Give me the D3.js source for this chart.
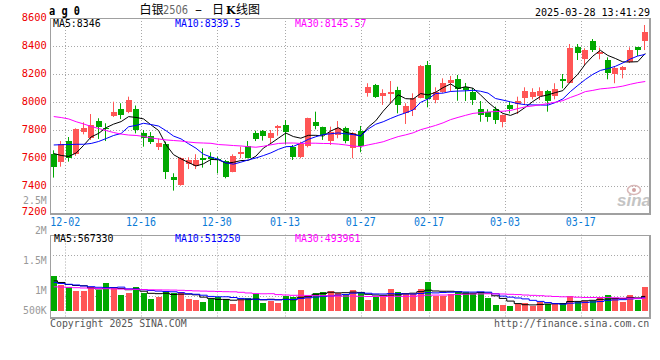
<!DOCTYPE html>
<html><head><meta charset="utf-8">
<script src="https://cdn.jsdelivr.net/npm/d3@7"></script>
<style>html,body{margin:0;padding:0;background:#fff;}svg{display:block;}</style>
</head><body><svg id="c" width="660" height="360"></svg>
<script>
const dates = ["11-28","11-29","12-02","12-03","12-04","12-05","12-06","12-09","12-10","12-11","12-12","12-13","12-16","12-17","12-18","12-19","12-20","12-23","12-24","12-25","12-26","12-27","12-30","12-31","01-02","01-03","01-06","01-07","01-08","01-09","01-10","01-13","01-14","01-15","01-16","01-17","01-20","01-21","01-22","01-23","01-24","01-27","02-05","02-06","02-07","02-10","02-11","02-12","02-13","02-14","02-17","02-18","02-19","02-20","02-21","02-24","02-25","02-26","02-27","02-28","03-03","03-04","03-05","03-06","03-07","03-10","03-11","03-12","03-13","03-14","03-17","03-18","03-19","03-20","03-21","03-24","03-25","03-26","03-27","03-28"];
const opens  = [7630,7567,7721,7629,7788,7741,7866,7812,7902,7948,7931,7948,7781,7760,7681,7700,7467,7402,7555,7540,7598,7609,7595,7579,7502,7629,7688,7776,7793,7745,7817,7836,7681,7602,7681,7859,7819,7724,7769,7812,7669,7793,8066,8121,8038,8055,8086,7919,7938,8026,8264,8019,8074,8138,8162,8105,8074,7948,7931,7948,7859,7979,7991,8034,8038,8045,8081,8038,8164,8141,8395,8307,8438,8348,8300,8205,8224,8288,8391,8438];
const highs  = [7655,7721,7750,7812,7855,7914,7884,7848,8002,7991,8038,7975,7800,7785,7740,7717,7491,7605,7605,7627,7669,7641,7610,7586,7626,7681,7721,7795,7800,7800,7836,7871,7693,7716,7888,7931,7824,7824,7864,7824,7784,7829,8134,8129,8091,8150,8109,7991,8062,8264,8293,8105,8169,8186,8193,8136,8100,8007,7948,7967,7910,8002,8038,8105,8098,8105,8086,8134,8200,8414,8414,8384,8450,8388,8319,8257,8257,8391,8391,8550];
const lows   = [7460,7538,7574,7615,7769,7729,7736,7721,7893,7878,7920,7776,7681,7700,7657,7450,7367,7402,7521,7521,7531,7550,7490,7455,7498,7598,7598,7721,7724,7698,7759,7698,7586,7598,7676,7805,7729,7693,7741,7705,7598,7641,8038,8029,7979,7991,7919,7843,7900,8026,7962,7991,8066,8074,8009,8007,7979,7859,7859,7843,7819,7919,7914,7979,8019,8014,7931,8019,8098,8136,8300,8264,8357,8305,8162,8134,8169,8279,8329,8371];
const closes = [7535,7698,7598,7805,7817,7836,7824,7802,7931,7907,8014,7795,7748,7717,7709,7502,7443,7598,7586,7586,7581,7598,7585,7467,7614,7645,7605,7734,7757,7781,7831,7788,7609,7698,7884,7831,7764,7788,7817,7716,7776,7688,8109,8038,8062,8069,7979,7971,8026,8257,8019,8074,8138,8157,8091,8086,8019,7902,7895,7867,7907,7950,8009,8081,8074,8081,8009,8091,8152,8388,8352,8371,8376,8359,8205,8245,8248,8371,8371,8502];
const volumes = [1390000,1020000,953000,794000,794000,953000,822000,1112000,889000,623000,715000,953000,691000,464000,556000,794000,715000,754000,464000,425000,333000,464000,556000,464000,266000,425000,492000,651000,318000,385000,318000,584000,556000,822000,584000,715000,754000,794000,691000,623000,822000,691000,425000,556000,556000,861000,754000,651000,651000,861000,1150000,596000,596000,651000,760000,754000,712000,754000,516000,226000,226000,187000,254000,294000,187000,333000,254000,318000,318000,596000,357000,385000,400000,520000,640000,492000,357000,620000,425000,940000];

const ma5Head  = [7632,7618,7611,7636];
const ma10Head = [7693,7695,7696,7698,7698,7704,7718,7739,7761];
const ma30Head = [7896,7889,7879,7859,7843,7825,7811,7796,7782,7771,7764,7761,7754,7743,7736,7729,7725,7721,7714,7709,7707,7705,7696,7693,7689,7686,7681,7677,7684];
const vma5Head  = [1187000,1120000,1040000,1000000];
const vma10Head = [1120000,1080000,1048000,1020000,981000,953000,929000,913000,913000];
const vma30Head = [949000,937000,925000,913000,901000,893000,885000,873000,865000,858000,850000,846000,838000,830000,826000,822000,818000,810000,798000,786000,778000,770000,762000,754000,750000,730000,703000,679000,671000];

const priceTicks = [8600,8400,8200,8000,7800,7600,7400,7200];
const dateTicks = ["12-02","12-16","12-30","01-13","01-27","02-17","03-03","03-17"];
const volTicks = [2500000,2000000,1500000,1000000,500000];
const volTickLabels = ["2.5M","2M","1.5M","1M","500K"];
const priceLegend = ["MA5:8346","MA10:8339.5","MA30:8145.57"];
const volLegend = ["MA5:567330","MA10:513250","MA30:493961"];
const maColors = ["#000000","#0000ff","#ff00ff"];

const UP = "#ff5555", DOWN = "#00a800";
const MONO = "'DejaVu Sans Mono', monospace";

function ma(vals, n, head){
  return vals.map((v,i)=> i < n-1 ? head[i] : d3.mean(vals.slice(i-n+1,i+1)));
}

const svg = d3.select("#c");
const L=50, R=649, PT=18, PB=214, VT=234.5, VB=317, VBASE=310.7;
const idx = d3.range(dates.length);
const x = d3.scaleBand().domain(idx).range([L,R]).paddingInner(0.2).paddingOuter(0.1);
const xc = i => x(i) + x.bandwidth()/2;
const xg = d3.scalePoint().domain(idx).range([L,R]);
const y = d3.scaleLinear().domain([7200,8600]).range([PB,PT]);
const yv = d3.scaleLinear().domain([0,3000000]).range([VBASE,235.1]);
const yvl = d3.scaleLinear().domain([1000000,2000000]).range([290.7,230.7]);
const px = v => Math.round(v)+0.5;

svg.append("rect").attr("width",660).attr("height",360).attr("fill","#fff");

const defs = svg.append("defs");
defs.append("clipPath").attr("id","cp").append("rect").attr("x",L).attr("y",PT).attr("width",R-L).attr("height",PB-PT);
defs.append("clipPath").attr("id","cv").append("rect").attr("x",L).attr("y",VT).attr("width",R-L).attr("height",VB-VT);

const grid = svg.append("g").attr("stroke","#a8a8a8").attr("stroke-dasharray","1,2").attr("stroke-width",1);
grid.selectAll(".hp").data(priceTicks.slice(1,-1)).join("line")
  .attr("x1",L).attr("x2",R).attr("y1",d=>px(y(d))).attr("y2",d=>px(y(d)));
grid.selectAll(".hv").data(d3.range(1,4)).join("line")
  .attr("x1",L).attr("x2",R).attr("y1",k=>px(VT+k*(VB-VT)/4)).attr("y2",k=>px(VT+k*(VB-VT)/4));
const dIdx = dateTicks.map(d=>dates.indexOf(d));
grid.selectAll(".vp").data(dIdx).join("line")
  .attr("x1",d=>px(xg(d))).attr("x2",d=>px(xg(d))).attr("y1",PT).attr("y2",PB);
grid.selectAll(".vv").data(dIdx).join("line")
  .attr("x1",d=>px(xg(d))).attr("x2",d=>px(xg(d))).attr("y1",VT).attr("y2",VB+2);

// watermark
const wm = svg.append("g");
wm.append("text").attr("x",617).attr("y",206).attr("font-family","'Liberation Sans',Arial,sans-serif")
  .attr("font-size",17).attr("font-weight","bold").attr("font-style","italic").attr("fill","#c4c4c4")
  .attr("textLength",34).attr("lengthAdjust","spacingAndGlyphs").text("sina");
wm.append("ellipse").attr("cx",634).attr("cy",190).attr("rx",6.5).attr("ry",4.5).attr("fill","none").attr("stroke","#d8b8b8").attr("stroke-width",1.6);
wm.append("circle").attr("cx",634).attr("cy",190).attr("r",2).attr("fill","#d0a0a0");

// candles
const cg = svg.append("g").attr("clip-path","url(#cp)");
const col = i => closes[i] >= opens[i] ? UP : DOWN;
cg.selectAll(".wick").data(idx).join("line")
  .attr("x1",i=>Math.round(x(i))+2.5).attr("x2",i=>Math.round(x(i))+2.5)
  .attr("y1",i=>y(highs[i])).attr("y2",i=>y(lows[i]))
  .attr("stroke",col).attr("stroke-width",1);
cg.selectAll(".body").data(idx).join("rect")
  .attr("x",i=>Math.round(x(i))).attr("width",6)
  .attr("y",i=>Math.round(y(Math.max(opens[i],closes[i]))))
  .attr("height",i=>Math.max(1,Math.round(Math.abs(y(opens[i])-y(closes[i])))))
  .attr("fill",col);

const pm = [ma(closes,5,ma5Head), ma(closes,10,ma10Head), ma(closes,30,ma30Head)];
const lineP = d3.line().x((d,i)=>xc(i)).y(d=>y(d));
cg.selectAll(".ma").data(pm).join("path")
  .attr("d",d=>lineP(d)).attr("fill","none").attr("stroke",(d,k)=>maColors[k]).attr("stroke-width",1);

// volume
const vg = svg.append("g").attr("clip-path","url(#cv)");
vg.selectAll(".vb").data(idx).join("rect")
  .attr("x",i=>Math.round(x(i))).attr("width",6)
  .attr("y",i=>Math.round(yv(volumes[i]))).attr("height",i=>Math.round(VBASE)-Math.round(yv(volumes[i])))
  .attr("fill",col);
const vm = [ma(volumes,5,vma5Head), ma(volumes,10,vma10Head), ma(volumes,30,vma30Head)];
const lineV = d3.line().x((d,i)=>xc(i)).y(d=>yv(d)).curve(d3.curveStep);
vg.selectAll(".vma").data(vm).join("path")
  .attr("d",d=>lineV(d)).attr("fill","none").attr("stroke",(d,k)=>maColors[k]).attr("stroke-width",1);

function frame(t,b){
  const f = svg.append("g").attr("stroke","#a0a0a0").attr("fill","none");
  f.append("line").attr("x1",L+0.5).attr("x2",L+0.5).attr("y1",t).attr("y2",b+1);
  f.append("line").attr("x1",L).attr("x2",R+1).attr("y1",t+0.5).attr("y2",t+0.5);
  f.append("line").attr("x1",R+1).attr("x2",R+1).attr("y1",t).attr("y2",b+2).attr("stroke-width",2);
  f.append("line").attr("x1",L).attr("x2",R+2).attr("y1",b+1).attr("y2",b+1).attr("stroke-width",2);
}
frame(PT,PB-1);
frame(Math.round(VT),VB);

svg.append("g").selectAll("text").data(priceTicks).join("text")
  .attr("x",46.7).attr("y",d=>Math.min(215,Math.max(19.3,y(d)+3.4)))
  .attr("text-anchor","end").attr("font-family",MONO).attr("font-size",10.5)
  .attr("textLength",25).attr("lengthAdjust","spacingAndGlyphs")
  .attr("fill","#ee0000").text(d=>d);

svg.append("g").selectAll("text").data(volTicks).join("text")
  .attr("x",46.7).attr("y",d=>Math.min(314.3,yvl(d)+3.3))
  .attr("text-anchor","end").attr("font-family",MONO).attr("font-size",10)
  .attr("textLength",(d,i)=>volTickLabels[i].length*5.9).attr("lengthAdjust","spacingAndGlyphs")
  .attr("fill","#999").text((d,i)=>volTickLabels[i]);

svg.append("g").selectAll("text").data(dIdx).join("text")
  .attr("x",d=>xg(d)).attr("y",226).attr("text-anchor","middle")
  .attr("font-family",MONO).attr("font-size",11.5)
  .attr("textLength",30).attr("lengthAdjust","spacingAndGlyphs")
  .attr("fill","#0a7ad6").text(d=>dates[d]);

const legX = [53,175,295];
svg.append("g").selectAll("text").data(priceLegend).join("text")
  .attr("x",(d,i)=>legX[i]).attr("y",27).attr("font-family",MONO).attr("font-size",10)
  .attr("textLength",d=>d.length*5.95).attr("lengthAdjust","spacingAndGlyphs")
  .attr("fill",(d,i)=>maColors[i]).text(d=>d);
svg.append("g").selectAll("text").data(volLegend).join("text")
  .attr("x",(d,i)=>legX[i]+(i===0?1:0)).attr("y",242).attr("font-family",MONO).attr("font-size",10)
  .attr("textLength",d=>d.length*5.95).attr("lengthAdjust","spacingAndGlyphs")
  .attr("fill",(d,i)=>maColors[i]).text(d=>d);

svg.append("text").attr("x",49).attr("y",15).attr("font-family",MONO).attr("font-size",12)
  .attr("font-weight","bold").attr("textLength",31).attr("lengthAdjust","spacingAndGlyphs").text("a g 0");
const CJK = "'Noto Sans CJK SC', sans-serif";
const th = svg.append("g").attr("font-size",12).attr("fill","#000");
th.append("text").attr("x",139.5).attr("y",14).attr("font-family",CJK).text("白银");
th.append("text").attr("x",163).attr("y",14).attr("font-family","'DejaVu Sans', sans-serif").attr("fill","#666")
  .attr("textLength",25).attr("lengthAdjust","spacingAndGlyphs").text("2506");
th.append("text").attr("x",195).attr("y",14).attr("font-family","'DejaVu Sans', sans-serif")
  .attr("textLength",7).attr("lengthAdjust","spacingAndGlyphs").text("–");
th.append("text").attr("x",212).attr("y",14).attr("font-family",CJK).text("日");
th.append("text").attr("x",226).attr("y",14).attr("font-family","'DejaVu Serif', serif").attr("font-weight","bold").attr("font-size",11).text("K");
th.append("text").attr("x",236).attr("y",14).attr("font-family",CJK).text("线图");

svg.append("text").attr("x",535).attr("y",16).attr("font-family",MONO).attr("font-size",11)
  .attr("textLength",115).attr("lengthAdjust","spacingAndGlyphs").text("2025-03-28 13:41:29");

svg.append("text").attr("x",50).attr("y",327).attr("font-family",MONO).attr("font-size",10.5)
  .attr("textLength",136.7).attr("lengthAdjust","spacingAndGlyphs").attr("fill","#555").text("Copyright 2025 SINA.COM");
svg.append("text").attr("x",649.3).attr("y",327.3).attr("text-anchor","end").attr("font-family",MONO).attr("font-size",10.5)
  .attr("textLength",155.3).attr("lengthAdjust","spacingAndGlyphs").attr("fill","#555").text("http://finance.sina.com.cn");
</script></body></html>
